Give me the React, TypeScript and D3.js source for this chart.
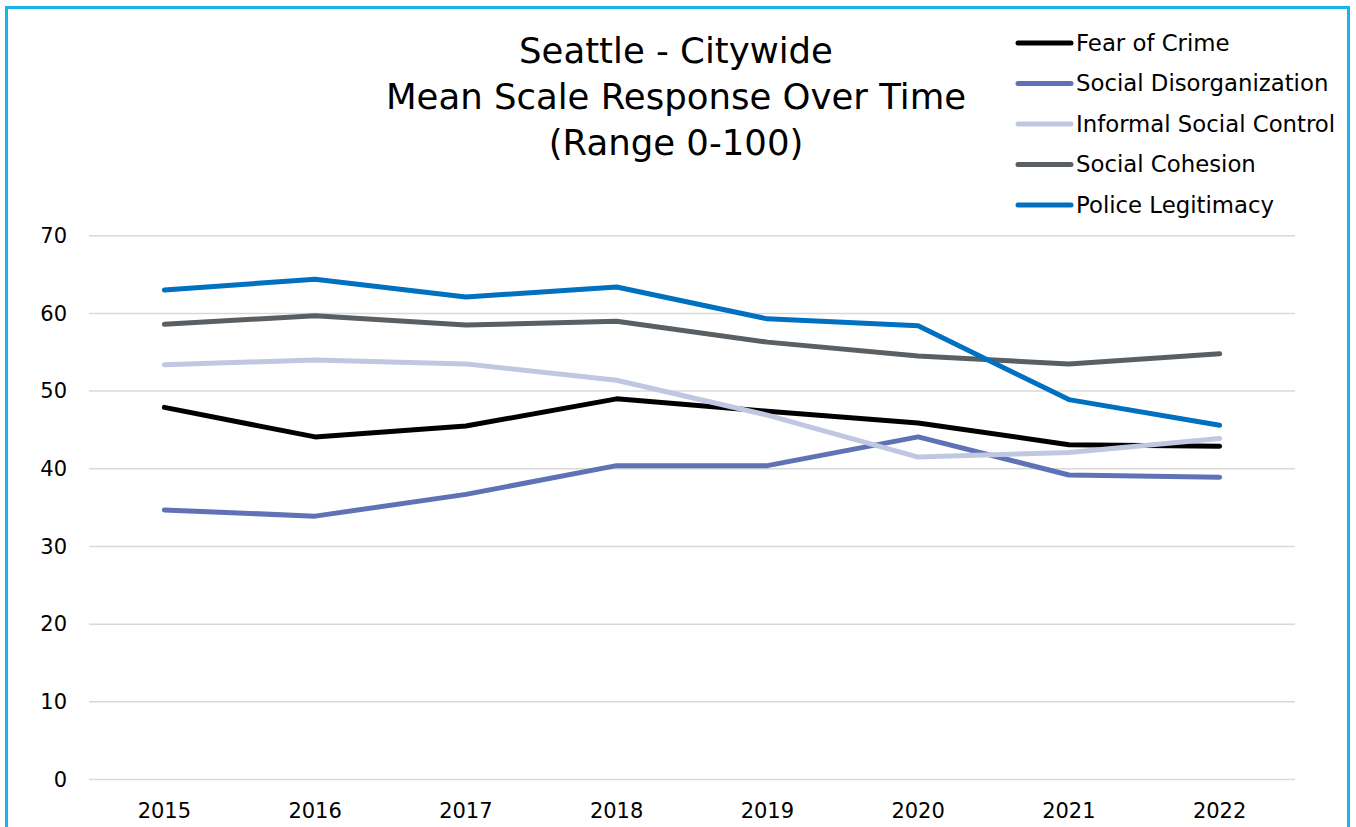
import React from 'react';
import * as d3 from 'd3';

const YEARS = ['2015', '2016', '2017', '2018', '2019', '2020', '2021', '2022'];
const SERIES_NAMES = ['Fear of Crime', 'Social Disorganization', 'Informal Social Control', 'Social Cohesion', 'Police Legitimacy'];
const SERIES_COLORS = ['#000000', '#5e72b5', '#bfc8e0', '#595f63', '#0070c0'];

const fearOfCrime = [47.9, 44.1, 45.5, 49.0, 47.4, 45.9, 43.1, 42.9];
const socialDisorganization = [34.7, 33.9, 36.7, 40.4, 40.4, 44.1, 39.2, 38.9];
const informalSocialControl = [53.4, 54.0, 53.5, 51.4, 46.9, 41.5, 42.1, 43.9];
const socialCohesion = [58.6, 59.7, 58.5, 59.0, 56.3, 54.5, 53.5, 54.8];
const policeLegitimacy = [63.0, 64.4, 62.1, 63.4, 59.3, 58.4, 48.9, 45.6];

const Y_TICKS = [0, 10, 20, 30, 40, 50, 60, 70];
const TITLE_LINES = ['Seattle - Citywide', 'Mean Scale Response Over Time', '(Range 0-100)'];

const W = 1356;
const H = 827;
const FONT = '"DejaVu Sans", "Noto Sans", sans-serif';

export default function App() {
  const seriesData = [fearOfCrime, socialDisorganization, informalSocialControl, socialCohesion, policeLegitimacy];

  const x = d3.scaleBand<string>().domain(YEARS).range([89, 1295]);
  const y = d3.scaleLinear().domain([0, 70]).range([779.5, 235.7]);

  const line = d3.line<number>()
    .x((_d, i) => (x(YEARS[i]) ?? 0) + x.bandwidth() / 2)
    .y((d) => y(d));

  return (
    <svg width={W} height={H} style={{ position: 'absolute', left: 0, top: 0, background: '#fff' }} fontFamily={FONT}>
      <rect x={0} y={0} width={W} height={H} fill="#fff" />
      <rect x={6.5} y={7.5} width={1342} height={H + 20} fill="none" stroke="#1ab4ec" strokeWidth={3} />

      {/* title */}
      {TITLE_LINES.map((t, i) => (
        <text key={t} x={676} y={63 + i * 46} textAnchor="middle" fontSize={35.5} fill="#000">{t}</text>
      ))}

      {/* gridlines + y labels */}
      {Y_TICKS.map((t) => (
        <g key={t}>
          <line x1={89} x2={1295} y1={y(t)} y2={y(t)} stroke="#d9d9d9" strokeWidth={1.5} />
          <text x={67} y={y(t)} dy="0.35em" textAnchor="end" fontSize={21} fill="#000">{t}</text>
        </g>
      ))}

      {/* x labels */}
      {YEARS.map((yr) => (
        <text key={yr} x={(x(yr) ?? 0) + x.bandwidth() / 2} y={818} textAnchor="middle" fontSize={21} fill="#000">{yr}</text>
      ))}

      {/* series */}
      {seriesData.map((vals, i) => (
        <path key={SERIES_NAMES[i]} d={line(vals) ?? ''} fill="none" stroke={SERIES_COLORS[i]}
          strokeWidth={5} strokeLinecap="round" strokeLinejoin="round" />
      ))}

      {/* legend */}
      {SERIES_NAMES.map((name, i) => (
        <g key={name} transform={`translate(0, ${43 + i * 40.5})`}>
          <line x1={1018} x2={1071} y1={0} y2={0} stroke={SERIES_COLORS[i]} strokeWidth={5} strokeLinecap="round" />
          <text x={1076} y={0} dy="0.35em" fontSize={22.8} fill="#000">{name}</text>
        </g>
      ))}
    </svg>
  );
}
